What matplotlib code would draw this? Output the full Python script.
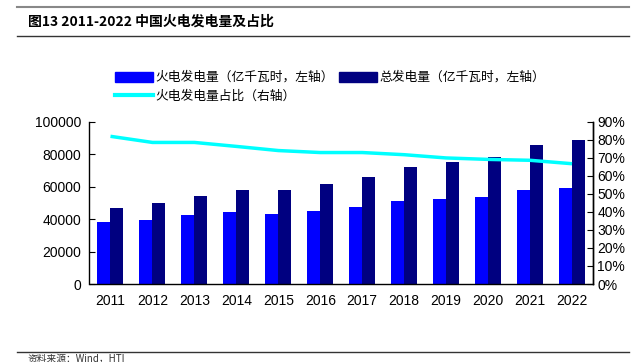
import matplotlib
matplotlib.use('Agg')
import matplotlib.pyplot as plt
from matplotlib.lines import Line2D
from matplotlib.patches import Patch
import numpy as np

plt.rcParams['font.family'] = ['Liberation Sans', 'Noto Sans CJK SC', 'DejaVu Sans']

# ── Data ──
years = ['2011', '2012', '2013', '2014', '2015', '2016',
         '2017', '2018', '2019', '2020', '2021', '2022']
thermal = [38400, 39200, 42500, 44100, 43100, 44800,
           47600, 51100, 52600, 53600, 58100, 59100]
total = [47000, 49900, 54400, 58100, 58100, 61600,
         66100, 71900, 75200, 78000, 85600, 88700]
share = [0.819, 0.785, 0.785, 0.763, 0.740, 0.729,
         0.729, 0.717, 0.699, 0.691, 0.686, 0.667]

title = '图13 2011-2022 中国火电发电量及占比'
lbl_thermal = '火电发电量（亿千瓦时，左轴）'
lbl_total = '总发电量（亿千瓦时，左轴）'
lbl_share = '火电发电量占比（右轴）'
source = '资料来源：Wind，HTI'

W, H = 642, 362
fig = plt.figure(figsize=(W / 100, H / 100), dpi=100)

def fx(px):
    return px / W

def fy(py):
    return 1 - py / H

ax = fig.add_axes([fx(89.5), fy(284), fx(593) - fx(89.5), fy(121.7) - fy(284)])
ax2 = ax.twinx()

x = np.arange(len(years))
bw = 0.31
ax.bar(x - bw / 2, thermal, bw, color='#0000FF', zorder=2)
ax.bar(x + bw / 2, total, bw, color='#000080', zorder=2)
ax2.plot(x, share, color='#00FFFF', lw=2.5, solid_capstyle='butt')

ax.set_xlim(-0.5, len(years) - 0.5)
ax.set_ylim(0, 100000)
ax.set_yticks(np.arange(0, 100001, 20000))
ax.set_xticks(x)
ax.set_xticklabels(years)
ax2.set_ylim(0, 0.9)
ax2.set_yticks(np.arange(0, 0.91, 0.1))
ax2.set_yticklabels([f'{int(round(v * 100))}%' for v in np.arange(0, 0.91, 0.1)])

for a in (ax, ax2):
    a.spines['top'].set_visible(False)
    for s in a.spines.values():
        s.set_linewidth(1.0)
        s.set_color('black')
ax.tick_params(axis='y', direction='in', length=4, labelsize=10, pad=6)
ax.tick_params(axis='x', length=0, labelsize=10, pad=7)
ax2.tick_params(axis='y', direction='in', length=4, labelsize=10, pad=3)
ax2.spines['left'].set_visible(False)
ax2.spines['bottom'].set_visible(False)

# ── Legend (column-major fill: thermal/share in col 1, total in col 2) ──
handles = [Patch(color='#0000FF', label=lbl_thermal),
           Line2D([0], [0], color='#00FFFF', lw=3, label=lbl_share),
           Patch(color='#000080', label=lbl_total)]
fig.legend(handles=handles, ncol=2, loc='upper left',
           bbox_to_anchor=(fx(110), fy(66)), frameon=False,
           prop={'family': ['Noto Sans CJK SC'], 'size': 9.2},
           handlelength=3.0, handleheight=0.8, handletextpad=0.15,
           columnspacing=0.4, labelspacing=0.45, borderaxespad=0)

# ── Title block and rules ──
fig.add_artist(Line2D([fx(17), fx(629)], [fy(7), fy(7)], color='#888888', lw=1.5))
fig.add_artist(Line2D([fx(17), fx(629)], [fy(36), fy(36)], color='#333333', lw=1.0))
fig.add_artist(Line2D([fx(17), fx(629)], [fy(352), fy(352)], color='#333333', lw=1.0))
fig.text(fx(28), fy(22), title, fontsize=10, fontweight='bold',
         family=['Noto Sans CJK SC'], va='center', ha='left')
fig.text(fx(28), fy(353.5), source, fontsize=7,
         family=['Noto Sans CJK SC'], va='top', ha='left', color='#333333')

fig.savefig('out.png', dpi=100)
